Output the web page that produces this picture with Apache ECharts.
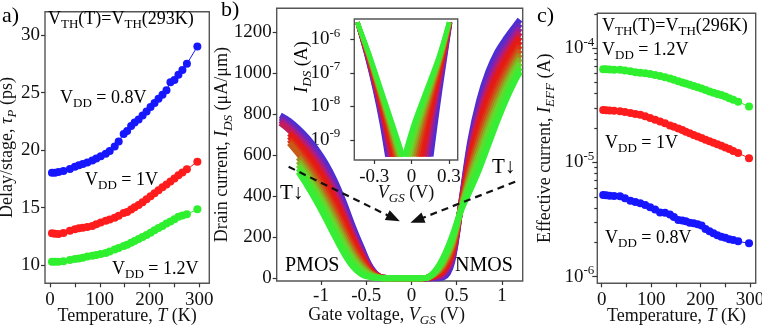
<!DOCTYPE html>
<html>
<head>
<meta charset="utf-8">
<script src="https://cdn.jsdelivr.net/npm/echarts@6/dist/echarts.min.js"></script>
<style>
  html, body { margin: 0; padding: 0; background: #fff; }
  #chart { width: 762px; height: 325px; }
</style>
</head>
<body>
<div id="chart"></div>
<script>
// ---- a) delay per stage vs temperature (ps)
var tempA = [4, 10, 17, 27, 40, 50, 58, 66, 75, 85, 93, 102, 112, 120, 130, 138, 148, 155, 163, 170, 178, 186, 194, 202, 210, 218, 226, 234, 242, 250, 258, 266, 275, 296];
var delay08 = [18.03, 18.03, 18.08, 18.17, 18.35, 18.55, 18.68, 18.78, 18.92, 19.10, 19.27, 19.45, 19.68, 19.92, 20.30, 20.75, 21.40, 21.65, 22.10, 22.40, 22.65, 23.00, 23.35, 23.75, 24.10, 24.45, 24.80, 25.20, 25.90, 26.10, 26.55, 26.95, 27.50, 29.00];
var delay10 = [12.76, 12.73, 12.70, 12.78, 12.98, 13.10, 13.19, 13.25, 13.31, 13.40, 13.55, 13.70, 13.86, 13.96, 14.12, 14.28, 14.52, 14.62, 14.83, 15.02, 15.23, 15.46, 15.72, 15.97, 16.24, 16.50, 16.76, 17.00, 17.27, 17.53, 17.80, 18.05, 18.32, 18.98];
var delay12 = [10.29, 10.29, 10.29, 10.33, 10.44, 10.52, 10.57, 10.64, 10.73, 10.80, 10.87, 10.95, 11.05, 11.17, 11.35, 11.49, 11.65, 11.76, 11.93, 12.09, 12.26, 12.43, 12.61, 12.80, 13.02, 13.21, 13.40, 13.62, 13.78, 13.99, 14.20, 14.30, 14.42, 14.85];

// ---- b) drain current (uA/um), one row per temperature, coldest (purple) first
var vgs = [-1.45, -1.35, -1.25, -1.15, -1.05, -0.95, -0.85, -0.75, -0.65, -0.55, -0.45, -0.35, -0.25, -0.15, -0.05, 0.05, 0.15, 0.25, 0.35, 0.45, 0.55, 0.65, 0.75, 0.85, 0.95, 1.05, 1.15, 1.2];
var ids00 = [795, 768, 730, 685, 630, 562, 478, 374, 256, 150, 55, 8, 1, 0, 0, 0, 0, 0, 4, 80, 370, 670, 870, 1008, 1105, 1173, 1233, 1262];
var ids01 = [783, 753, 713, 666, 609, 540, 456, 354, 240, 139, 51, 8, 1, 0, 0, 0, 0, 3, 12, 91, 367, 650, 842, 978, 1077, 1148, 1211, 1241];
var ids02 = [771, 737, 695, 646, 588, 517, 433, 333, 223, 128, 47, 7, 1, 0, 0, 0, 0, 5, 20, 101, 364, 630, 814, 948, 1049, 1123, 1189, 1220];
var ids03 = [758, 722, 677, 627, 567, 495, 411, 312, 207, 117, 43, 7, 1, 0, 0, 0, 0, 8, 28, 112, 361, 610, 786, 919, 1021, 1099, 1167, 1199];
var ids04 = [null, 707, 659, 607, 545, 472, 388, 291, 190, 106, 38, 6, 1, 0, 0, 0, 0, 10, 36, 122, 358, 590, 758, 889, 993, 1074, 1145, 1177];
var ids05 = [null, 692, 642, 588, 524, 450, 366, 271, 174, 96, 34, 6, 1, 0, 0, 0, 0, 13, 44, 133, 355, 571, 730, 859, 965, 1049, 1123, 1156];
var ids06 = [null, 676, 624, 568, 503, 428, 343, 250, 158, 85, 30, 5, 0, 0, 0, 0, 0, 15, 52, 143, 352, 551, 702, 829, 937, 1024, 1101, 1135];
var ids07 = [null, 660, 607, 548, 482, 406, 321, 229, 142, 74, 26, 4, 0, 0, 0, 0, 1, 18, 60, 153, 349, 531, 674, 799, 909, 999, 1079, 1114];
var ids08 = [null, null, 589, 528, 460, 383, 298, 208, 125, 63, 22, 3, 0, 0, 0, 0, 1, 20, 68, 163, 345, 511, 645, 769, 880, 974, 1056, 1093];
var ids09 = [null, null, 571, 509, 439, 361, 275, 188, 109, 52, 18, 3, 0, 0, 0, 0, 1, 23, 76, 174, 342, 491, 617, 740, 852, 950, 1034, 1072];
var ids10 = [null, null, 553, 489, 418, 338, 252, 167, 92, 41, 13, 2, 0, 0, 0, 0, 1, 25, 84, 184, 339, 471, 589, 710, 824, 925, 1012, 1050];
var ids11 = [null, null, 536, 470, 397, 316, 230, 146, 76, 30, 9, 2, 0, 0, 0, 0, 1, 28, 92, 195, 336, 451, 561, 680, 796, 900, 990, 1029];
var ids12 = [null, null, 518, 450, 375, 293, 207, 125, 59, 19, 5, 1, 0, 0, 0, 0, 1, 30, 100, 205, 333, 431, 533, 650, 768, 875, 968, 1008];
var idsCurves = [ids00, ids01, ids02, ids03, ids04, ids05, ids06, ids07, ids08, ids09, ids10, ids11, ids12];
var curveColors = ['#4a2fd4', '#6c27bc', '#9a1f98', '#c41c5a', '#e41818', '#e41c16', '#dc3414', '#c85a18', '#a6881e', '#86b424', '#68d62c', '#48e630', '#35ee35'];

// inset: current levels (A), and gate voltage (V) of each curve at those levels
var insetI = [3.2e-6, 3.2e-7, 3.2e-8, 3.2e-9, 3.2e-10];
var insetLeft = [
  [-0.435, -0.360, -0.295, -0.240, -0.195],
  [-0.435, -0.358, -0.291, -0.233, -0.185],
  [-0.435, -0.356, -0.287, -0.226, -0.174],
  [-0.435, -0.354, -0.283, -0.219, -0.163],
  [-0.435, -0.352, -0.278, -0.212, -0.152],
  [-0.435, -0.350, -0.274, -0.205, -0.142],
  [-0.435, -0.348, -0.270, -0.198, -0.131],
  [-0.435, -0.346, -0.266, -0.191, -0.121],
  [-0.435, -0.343, -0.262, -0.183, -0.110],
  [-0.435, -0.341, -0.258, -0.176, -0.099],
  [-0.435, -0.339, -0.253, -0.169, -0.088],
  [-0.435, -0.337, -0.249, -0.162, -0.078],
  [-0.435, -0.335, -0.245, -0.155, -0.067]
];
var insetRight = [
  [0.310, 0.270, 0.230, 0.193, 0.158],
  [0.309, 0.266, 0.221, 0.179, 0.140],
  [0.308, 0.262, 0.212, 0.164, 0.122],
  [0.308, 0.258, 0.203, 0.150, 0.104],
  [0.307, 0.253, 0.193, 0.135, 0.085],
  [0.306, 0.249, 0.184, 0.121, 0.067],
  [0.305, 0.245, 0.175, 0.107, 0.049],
  [0.304, 0.241, 0.166, 0.093, 0.031],
  [0.303, 0.237, 0.157, 0.078, 0.013],
  [0.303, 0.233, 0.148, 0.064, -0.006],
  [0.302, 0.228, 0.138, 0.049, -0.024],
  [0.301, 0.224, 0.129, 0.035, -0.042],
  [0.300, 0.220, 0.120, 0.020, -0.060]
];

// dashed "T down" arrows, [fromV, fromI, toV, toI]
var arrowsB = [[-1.358, 544, -0.198, 293], [1.147, 471, 0.061, 284]];

// ---- c) effective current vs temperature (uA)
var tempC = [3, 9, 16, 25, 37, 47, 58, 68, 78, 88, 98, 108, 118, 128, 138, 146, 155, 163, 170, 178, 186, 194, 202, 210, 218, 226, 234, 242, 250, 258, 266, 276, 298];
var ieff08 = [5.19, 5.15, 5.10, 5.09, 5.05, 4.85, 4.62, 4.50, 4.40, 4.25, 4.06, 3.88, 3.64, 3.62, 3.50, 3.33, 3.14, 3.10, 3.05, 2.97, 2.93, 2.88, 2.80, 2.62, 2.50, 2.40, 2.31, 2.24, 2.19, 2.13, 2.09, 2.04, 1.96];
var ieff10 = [28.8, 28.6, 28.5, 28.3, 28.0, 27.6, 27.1, 26.6, 26.1, 25.4, 24.5, 23.6, 22.8, 22.0, 21.1, 20.5, 19.8, 19.2, 18.6, 18.0, 17.4, 16.9, 16.4, 15.8, 15.3, 14.9, 14.4, 14.0, 13.5, 13.1, 12.6, 12.1, 10.9];
var ieff12 = [65.5, 65.5, 65.2, 64.6, 64.6, 63.7, 62.7, 61.7, 60.9, 60.4, 59.5, 58.3, 57.0, 55.7, 54.2, 52.9, 51.4, 50.0, 49.1, 47.8, 46.6, 45.4, 44.3, 43.1, 41.8, 40.7, 39.7, 38.9, 37.7, 36.4, 35.4, 34.0, 30.8];

// ticks
var ticksAx = [0, 50, 100, 150, 200, 250, 300];
var labelsAx = [0, 100, 200, 300];
var ticksAy = [10, 15, 20, 25, 30];
var ticksBx = [-1, -0.5, 0, 0.5, 1];
var ticksBy = [0, 200, 400, 600, 800, 1000, 1200];
var ticksInsetX = [-0.3, 0, 0.3];
var ticksInsetY = [1e-9, 1e-8, 1e-7, 1e-6];
var ticksCy = [1e-6, 1e-5, 1e-4];
var minorCy = [2e-6, 3e-6, 4e-6, 5e-6, 6e-6, 7e-6, 8e-6, 9e-6, 2e-5, 3e-5, 4e-5, 5e-5, 6e-5, 7e-5, 8e-5, 9e-5, 2e-4];

var FONT = 'Liberation Serif';
var INK = '#111';

function rich(size) {
  var sub = Math.round(size * 0.7);
  return {
    n: { fontFamily: FONT, fontSize: size, color: INK, lineHeight: size + 6 },
    i: { fontFamily: FONT, fontSize: size, fontStyle: 'italic', color: INK, lineHeight: size + 6 },
    s: { fontFamily: FONT, fontSize: sub, color: INK, verticalAlign: 'bottom' },
    si: { fontFamily: FONT, fontSize: sub, fontStyle: 'italic', color: INK, verticalAlign: 'bottom' },
    p: { fontFamily: FONT, fontSize: sub, color: INK, verticalAlign: 'top' }
  };
}

function plainLabel(v) {
  return '{n|' + v + '}';
}

function powLabel(v) {
  return '{n|10}{p|' + Math.round(Math.log10(v)) + '}';
}

function axis(o) {
  return {
    type: o.log ? 'log' : 'value',
    gridIndex: o.grid,
    min: o.min,
    max: o.max,
    position: o.pos,
    name: o.name || '',
    nameLocation: 'middle',
    nameGap: o.nameGap || 0,
    nameMoveOverlap: false,
    nameTextStyle: { rich: rich(18), padding: o.namePad || 0 },
    axisLine: { show: false, onZero: false },
    splitLine: { show: false },
    minorTick: { show: false },
    axisTick: { show: true, length: o.tickLen || 4, customValues: o.ticks, lineStyle: { color: '#333', width: 1.2 } },
    axisLabel: {
      show: !!o.labels,
      customValues: o.labels,
      margin: o.margin || 5,
      formatter: o.fmt || plainLabel,
      rich: rich(19),
      fontFamily: FONT,
      fontSize: 19,
      color: INK
    }
  };
}

function pairs(xs, ys, k) {
  var out = [];
  for (var i = 0; i < xs.length; i++) {
    if (ys[i] != null) out.push([xs[i], ys[i] * (k || 1)]);
  }
  return out;
}

function dots(xs, ys, color, xi, yi, k) {
  return {
    type: 'line', xAxisIndex: xi, yAxisIndex: yi,
    data: pairs(xs, ys, k),
    symbol: 'circle', symbolSize: 8, showSymbol: true,
    itemStyle: { color: color },
    lineStyle: { color: color, width: 1 }
  };
}

var series = [
  dots(tempA, delay08, '#1616ff', 0, 0),
  dots(tempA, delay10, '#ff1c1c', 0, 0),
  dots(tempA, delay12, '#2ef02e', 0, 0)
];

idsCurves.forEach(function (c, k) {
  series.push({
    type: 'line', xAxisIndex: 1, yAxisIndex: 1,
    data: pairs(vgs, c),
    showSymbol: false, smooth: 0.35,
    lineStyle: { color: curveColors[k], width: 6 }
  });
});

series[series.length - 1].markLine = {
  silent: true,
  symbol: ['none', 'triangle'],
  symbolSize: [11, 14],
  label: { show: false },
  lineStyle: { color: '#111', width: 2.2, type: [7, 5] },
  data: arrowsB.map(function (a) {
    return [{ coord: [a[0], a[1]] }, { coord: [a[2], a[3]] }];
  })
};

// each inset curve is drawn as its two branches (V on x, current on log y)
insetLeft.forEach(function (l, k) {
  [l, insetRight[k]].forEach(function (branch) {
    series.push({
      type: 'line', xAxisIndex: 2, yAxisIndex: 2,
      data: pairs(branch, insetI),
      showSymbol: false, smooth: 0.3,
      lineStyle: { color: curveColors[k], width: 4.5 }
    });
  });
});

series.push(dots(tempC, ieff12, '#2ef02e', 3, 3, 1e-6));
series.push(dots(tempC, ieff10, '#ff1c1c', 3, 3, 1e-6));
series.push(dots(tempC, ieff08, '#1616ff', 3, 3, 1e-6));

function label(x, y, text, size, extra) {
  var align = (extra && extra.align) || 'left';
  return {
    type: 'text', x: x, y: y, z: 100,
    rotation: (extra && extra.rotation) || 0,
    style: { text: text, rich: rich(size), align: align, verticalAlign: 'middle', textAlign: align, textVerticalAlign: 'middle' }
  };
}

var gridStyle = { show: true, borderColor: '#555', borderWidth: 1.4, backgroundColor: 'transparent', outerBoundsMode: 'none' };

var option = {
  animation: false,
  backgroundColor: '#fff',
  grid: [
    Object.assign({ left: 45, top: 11.7, width: 164.3, height: 271.6 }, gridStyle),
    Object.assign({ left: 276.7, top: 8.3, width: 246, height: 272.7 }, gridStyle),
    Object.assign({ left: 354.3, top: 19, width: 103.4, height: 141 }, gridStyle, { backgroundColor: '#fff' }),
    Object.assign({ left: 597.3, top: 13.3, width: 158.4, height: 270 }, gridStyle)
  ],
  xAxis: [
    axis({ grid: 0, min: -10, max: 320, ticks: ticksAx, labels: labelsAx, margin: 4, nameGap: 21,
      name: '{n|Temperature, }{i|T}{n| (K)}' }),
    axis({ grid: 1, min: -1.49, max: 1.23, ticks: ticksBx, labels: ticksBx, margin: 3, nameGap: 22, namePad: [0, 26, 0, 0],
      name: '{n|Gate voltage, }{i|V}{si|GS}{n| (V)}' }),
    axis({ grid: 2, min: -0.46, max: 0.37, ticks: ticksInsetX, labels: ticksInsetX, margin: 5, nameGap: 21,
      name: '{i|V}{si|GS}{n| (V)}' }),
    axis({ grid: 3, min: -8.9, max: 311.5, ticks: ticksAx, labels: labelsAx, margin: 4, nameGap: 21,
      name: '{n|Temperature, }{i|T}{n| (K)}' })
  ],
  yAxis: [
    axis({ grid: 0, pos: 'left', min: 8.41, max: 32.03, ticks: ticksAy, labels: ticksAy, margin: 5, nameGap: 26,
      name: '{n|Delay/stage, }{i|τ}{si|P}{n| (ps)}' }),
    axis({ grid: 1, pos: 'left', min: -13, max: 1317, ticks: ticksBy, labels: ticksBy, margin: 5, nameGap: 42,
      name: '{n|Drain current, }{i|I}{si|DS}{n| (μA/μm)}' }),
    axis({ grid: 2, pos: 'left', log: true, min: 2.53e-10, max: 4.04e-6, ticks: ticksInsetY, labels: ticksInsetY, margin: 14, fmt: powLabel }),
    axis({ grid: 3, pos: 'left', log: true, min: 8.75e-7, max: 2.02e-4, ticks: ticksCy, labels: ticksCy, margin: 3, tickLen: 5, fmt: powLabel, nameGap: 40,
      name: '{n|Effective current, }{i|I}{si|EFF}{n| (A)}' }),
    axis({ grid: 3, pos: 'left', log: true, min: 8.75e-7, max: 2.02e-4, ticks: minorCy, tickLen: 3 })
  ],
  series: series,
  graphic: [
    label(2, 16, '{n|a)}', 22),
    label(221, 10, '{n|b)}', 22),
    label(537, 16, '{n|c)}', 22),
    label(48, 19, '{n|V}{s|TH}{n|(T)=V}{s|TH}{n|(293K)}', 18),
    label(60, 98, '{n|V}{s|DD}{n| = 0.8V}', 18),
    label(85, 180, '{n|V}{s|DD}{n| = 1V}', 18),
    label(112, 269, '{n|V}{s|DD}{n| = 1.2V}', 18),
    label(285, 266, '{n|PMOS}', 20),
    label(455, 266, '{n|NMOS}', 20),
    label(280, 193, '{n|T↓}', 21),
    label(492, 167, '{n|T↓}', 21),
    label(302, 67, '{i|I}{si|DS}{n| (A)}', 18, { rotation: Math.PI / 2, align: 'center' }),
    label(602, 26, '{n|V}{s|TH}{n|(T)=V}{s|TH}{n|(296K)}', 18),
    label(602, 50, '{n|V}{s|DD}{n| = 1.2V}', 18),
    label(605, 143, '{n|V}{s|DD}{n| = 1V}', 18),
    label(605, 238, '{n|V}{s|DD}{n| = 0.8V}', 18)
  ]
};

var chart = echarts.init(document.getElementById('chart'));
chart.setOption(option);
</script>
</body>
</html>
